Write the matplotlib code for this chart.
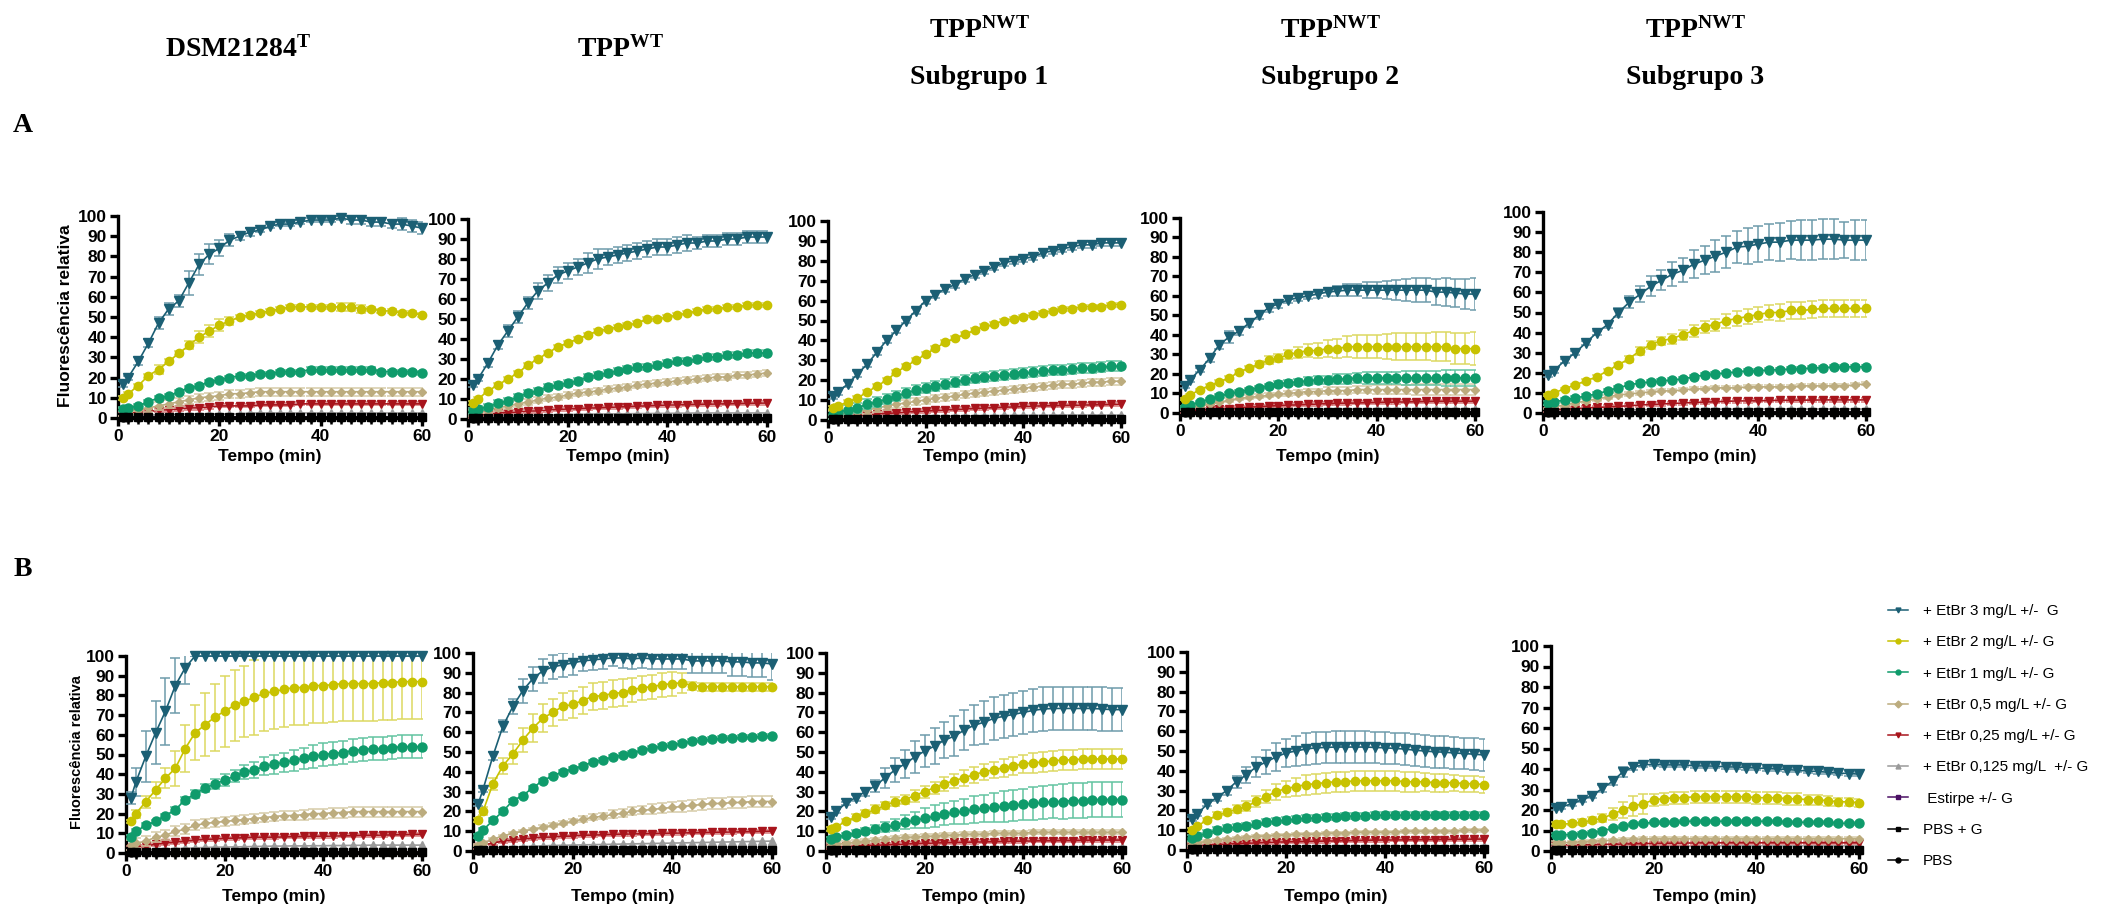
import matplotlib
matplotlib.use("Agg")
import matplotlib.pyplot as plt
from matplotlib.lines import Line2D
from matplotlib.ticker import MultipleLocator
import numpy as np

plt.rcParams['font.family'] = ['Liberation Sans', 'DejaVu Sans']
plt.rcParams['mathtext.fontset'] = 'custom'
plt.rcParams['mathtext.rm'] = 'Liberation Serif'
plt.rcParams['mathtext.bf'] = 'Liberation Serif:bold'

# time points (min)
TIME = [1, 2, 4, 6, 8, 10, 12, 14, 16, 18, 20, 22, 24, 26, 28, 30,
        32, 34, 36, 38, 40, 42, 44, 46, 48, 50, 52, 54, 56, 58, 60]

LABELS = ['+ EtBr 3 mg/L +/-  G', '+ EtBr 2 mg/L +/- G', '+ EtBr 1 mg/L +/- G',
          '+ EtBr 0,5 mg/L +/- G', '+ EtBr 0,25 mg/L +/- G', '+ EtBr 0,125 mg/L  +/- G',
          ' Estirpe +/- G', 'PBS + G', 'PBS']

TITLES = [r'$\mathbf{DSM21284^T}$', r'$\mathbf{TPP^{WT}}$', r'$\mathbf{TPP^{NWT}}$',
          r'$\mathbf{TPP^{NWT}}$', r'$\mathbf{TPP^{NWT}}$']
SUBTITLES = ['', '', 'Subgrupo 1', 'Subgrupo 2', 'Subgrupo 3']

# controls (same in every panel, ~0)
ESTIRPE = [0.6, 0.6, 0.6, 0.6, 0.6, 0.6, 0.6, 0.6, 0.6, 0.6, 0.6, 0.6, 0.6, 0.6, 0.6, 0.6,
           0.6, 0.6, 0.6, 0.6, 0.6, 0.6, 0.6, 0.6, 0.6, 0.6, 0.6, 0.6, 0.6, 0.6, 0.6]
PBS_G = [0.3, 0.3, 0.3, 0.3, 0.3, 0.3, 0.3, 0.3, 0.3, 0.3, 0.3, 0.3, 0.3, 0.3, 0.3, 0.3,
         0.3, 0.3, 0.3, 0.3, 0.3, 0.3, 0.3, 0.3, 0.3, 0.3, 0.3, 0.3, 0.3, 0.3, 0.3]
PBS = [0, 0, 0, 0, 0, 0, 0, 0, 0, 0, 0, 0, 0, 0, 0, 0,
       0, 0, 0, 0, 0, 0, 0, 0, 0, 0, 0, 0, 0, 0, 0]

# ---- row A ----
A1_3 = [17,20,28,37,47,54,58,67,76,81,84,88,90,92,93,95,96,96,97,98,98,98,99,98,98,97,97,96,96,95,94]
A1_3sd = [1.5,1,2,2,3,3,3,6,5,5,4,3,2,2,1,1,1,1,1,1,1,1,1,2,2,2,2,2,3,3,3]
A1_2 = [10,12,16,21,24,28,32,36,40,43,46,48,50,51,52,53,54,55,55,55,55,55,55,55,54,54,53,53,52,52,51]
A1_2sd = [1,1,1,1,2,1,1,2,3,3,3,2,1,1,1,1,1,1,1,1,1,1,2,2,2,1,1,1,1,1,1]
A1_1 = [4.5,5,6,8,10,11,13,15,16,18,19,20,21,21,22,22,23,23,23,24,24,24,24,24,24,24,23,23,23,23,22.5]
A1_1sd = 1
A1_05 = [3,3,4,5,6,7,8,9,10,10.5,11,12,12,12.5,13,13,13,13,13,13,13,13,13,13,13,13,13,13,13,13,13]
A1_05sd = 2
A1_025 = [2,2,3,3,4,4,4.5,5,5,5.5,6,6,6,6,6.5,6.5,6.5,6.5,7,7,7,7,7,7,7,7,7,7,7,7,7]
A1_0125 = [1,1,1,1.5,1.5,1.5,2,2,2,2,2,2,2,2.5,2.5,2.5,2.5,2.5,2.5,2.5,2.5,2.5,2.5,2.5,2.5,2.5,2.5,2.5,2.5,2.5,2.5]

A2_3 = [17,20,28,37,44,51,58,64,68,72,74,76,78,80,81,82,83,84,85,86,86,87,88,88,89,89,90,90,91,91,91]
A2_3sd = [1,1,2,2,3,3,3,4,4,4,4,4,5,5,4,4,4,4,4,4,4,4,4,3,3,3,3,3,3,3,3]
A2_2 = [8,10,14,17,20,23,27,30,33,36,38,40,42,44,45,46,47,48,50,50,51,52,53,54,55,55,56,56,57,57,57]
A2_2sd = 0.8
A2_1 = [4,5,6,8,9,11,13,14,16,17,18,19,21,22,23,24,25,26,26,27,28,29,29,30,31,31,32,32,33,33,33]
A2_1sd = 1.5
A2_05 = [3,3.5,4.5,5.5,6.5,7.5,8.5,9.5,10.5,11,12,13,13.5,14,15,15.5,16,17,17.5,18,18.5,19,19.5,20,20.5,21,21,22,22,22.5,23]
A2_05sd = 1.5
A2_025 = [1.5,2,2.5,3,3.2,3.5,4,4,4.5,4.8,5,5.2,5.4,5.6,5.8,6,6.2,6.4,6.6,6.8,7,7,7.2,7.3,7.4,7.5,7.6,7.7,7.8,7.9,8]
A2_0125 = [1,1,1.2,1.4,1.5,1.6,1.8,2,2,2.1,2.2,2.3,2.4,2.5,2.5,2.6,2.6,2.7,2.7,2.8,2.8,2.9,2.9,3,3,3,3,3,3,3,3]

A3_3 = [12,14,18,23,28,34,40,45,50,55,60,63,66,68,71,73,75,77,79,80,81,82,84,85,86,87,88,88,89,89,89]
A3_3sd = 1.5
A3_2 = [6,7,9,11,14,17,20,24,27,30,33,36,39,41,43,45,47,48,50,51,52,53,54,55,56,56,57,57,57,58,58]
A3_2sd = 1
A3_1 = [3,4,5,6,8,9,10.5,12,13.5,15,16,17,18,19,20,21,21.5,22,22.5,23,23.5,24,24.5,25,25,25.5,26,26,26.5,27,27]
A3_1sd = 2.5
A3_05 = [2.5,3,3.5,4,5,6,7,8,8.5,9.5,10,11,11.5,12,13,13.5,14,14.5,15,15.5,16,16.5,17,17.5,18,18,18.5,19,19,19.5,19.5]
A3_05sd = 1.8
A3_025 = [1.5,1.7,2,2.3,2.6,3,3.3,3.6,4,4.2,4.5,4.8,5,5.3,5.5,5.8,6,6.2,6.4,6.6,6.8,7,7.1,7.2,7.3,7.4,7.5,7.6,7.7,7.8,8]
A3_0125 = [1,1,1,1.1,1.2,1.3,1.4,1.5,1.6,1.7,1.8,1.9,2,2,2.1,2.1,2.2,2.2,2.3,2.3,2.4,2.4,2.4,2.5,2.5,2.5,2.5,2.5,2.5,2.5,2.5]

A4_3 = [14,17,22,28,35,39,42,46,50,54,56,58,59,60,61,62,62.5,63,63,63,63,63,63,63,63,63,62,62,61.5,61,61]
A4_3sd = [1,1,1,2,2,3,2,2,2,2,2,1.5,1.5,1.5,2,2,2.5,3,3,4,4,4.5,5,5.5,6,6,6.5,7,7,7.5,8]
A4_2 = [7,9,12,14,16,18,21,23,25,27,28,30,31,32,32,33,33,34,34,34,34,34,34,34,34,34,34,34,33,33,33]
A4_2sd = [0.5,0.5,0.5,1,1,1,1,1,1.5,2,2,2.5,3,3.5,4,4.5,5,5.5,6,6,6,6.5,7,7,7,7,7.5,7.5,8,8,8.5]
A4_1 = [3,4,5.5,7,8.5,10,11,12,13,14,15,15.5,16,16.5,17,17,17.5,17.5,18,18,18,18,18,18,18,18,18,18,18,18,18]
A4_1sd = [0.5,0.5,0.5,0.5,1,1,1,1,1,1,1.5,1.5,1.5,2,2,2,2.5,2.5,2.5,3,3,3,3,3.5,3.5,3.5,3.5,4,4,4,4]
A4_05 = [2,2.5,3.5,4.5,5.5,6.5,7.5,8,8.5,9,9.5,10,10.5,11,11,11.5,11.5,11.5,12,12,12,12,12,12,12,12,12,12,12,12,12]
A4_05sd = [0.5,0.5,0.5,0.5,0.5,1,1,1,1,1,1,1.5,1.5,1.5,1.5,2,2,2,2,2,2.5,2.5,2.5,2.5,3,3,3,3,3,3,3]
A4_025 = [1,1.2,1.5,1.8,2,2.3,2.6,3,3.2,3.5,3.8,4,4.2,4.4,4.6,4.8,5,5,5.2,5.3,5.4,5.5,5.6,5.7,5.8,5.9,6,6,6,6,6]
A4_0125 = [0.8,0.9,1,1,1.1,1.2,1.3,1.4,1.5,1.5,1.6,1.7,1.7,1.8,1.8,1.9,1.9,2,2,2,2,2,2,2,2,2,2,2,2,2,2]

A5_3 = [19,21,26,30,35,40,44,50,55,59,63,66,69,71,74,76,78,80,82.5,83,84,85,85,86,86,86,86.5,86.5,86,86,86]
A5_3sd = [1,1,1,1,1,1,1.5,2,3,4,5,5,6,6,7,7,8,8,8,9,9,9,9.5,9.5,10,10,10,10,9,10,10]
A5_2 = [9,10,12,14,16,18,21,24,27,31,34,36,37,39,41,43,44,46,47,48,49,50,50,51,51,51.5,52,52,52,52,52]
A5_2sd = [0.5,0.5,0.5,0.5,1,1,1,1,1.5,2,2,2,2.5,2.5,3,3,3,3.5,3.5,3.5,3.5,3.5,4,4,4,4,4,4,4,4,4]
A5_1 = [5,5.5,6.5,7.5,8.5,9.5,11,12.5,14,15,15.5,16,16.5,17,18,19,19.5,20,20.5,21,21,21.5,21.5,22,22,22.5,22.5,23,23,23,23]
A5_1sd = 0.8
A5_05 = [3,3,4,5,6,7,8,9,9.5,10,10.5,11,11,11.5,12,12,12.5,12.5,12.5,13,13,13,13,13,13.5,13.5,13.5,13.5,13.5,14,14.5]
A5_05sd = 0.8
A5_025 = [1.5,1.7,2,2.2,2.5,2.8,3,3.3,3.6,4,4.2,4.5,4.7,5,5.2,5.4,5.6,5.8,6,6,6.1,6.2,6.3,6.3,6.4,6.4,6.5,6.5,6.5,6.5,6.5]
A5_0125 = [1,1,1,1.1,1.2,1.3,1.4,1.5,1.5,1.6,1.6,1.7,1.7,1.8,1.8,1.8,1.9,1.9,1.9,2,2,2,2,2,2,2,2,2,2,2,2]

# ---- row B ----
B1_3 = [28,36,49,61,72,85,94,100,100,100,100,100,100,100,100,100,100,100,100,100,100,100,100,100,100,100,100,100,100,100,100]
B1_3sd = [3,7,13,16,17,14,8,0,0,0,0,0,0,0,0,0,0,0,0,0,0,0,0,0,0,0,0,0,0,0,0]
B1_2 = [16,20,26,32,38,43,53,61,65,69,72,75,77,79,81,82,83,84,84,85,85,85.5,86,86,86,86,86.5,86.5,87,87,87]
B1_2sd = [1,2,3,4,5,9,12,14,16,17,18,18,18,19,19,19,19,19,19,19,19,19,19,19,19,19,19,19,19,19,19]
B1_1 = [8,11,14,16,19,22,27,30,33,35,37,39,41,42,44,45,46,47,48,49,50,50.5,51,52,52.5,53,53,53.5,54,54,54]
B1_1sd = [1,1,1,1,1,1.5,1.5,2,2,2.5,3,3,3.5,4,4.5,5,5,5.5,5.5,6,6,6,6,6,6,6,6,6,6,6,6]
B1_05 = [4,5,6,8,9,11,12,14,15,15.5,16,16.5,17,17.5,18,18.5,19,19,19.5,20,20,20.5,20.5,21,21,21,21,21,21,21,21]
B1_05sd = 2.5
B1_025 = [2.5,3,3.5,4.5,5,5.5,6,6.5,7,7,7.5,7.5,7.8,8,8,8,8.2,8.3,8.4,8.5,8.5,8.6,8.7,8.8,9,9,9.1,9.2,9.3,9.4,9.5]
B1_0125 = [1,1.2,1.5,1.8,2,2.2,2.4,2.6,2.8,3,3,3.1,3.2,3.3,3.4,3.5,3.5,3.6,3.6,3.7,3.7,3.8,3.8,3.9,3.9,4,4,4,4,4,4]

B2_3 = [23.5,31,48,63,73,81,87,91,93,94,95,96,96.5,97,97.5,97.5,97,97.5,97,97,97,97,96,96,96,96,95.5,95.5,95,95,94.5]
B2_3sd = [1,1,2,3,4,6,6,6,6,6,6,5,5,5,4,5,5,5,5,5,5,5,6,6,6,6,7,7,7,7,8]
B2_2 = [15.5,20,34,43,49,56,62,67,70,73,74,76,78,78.5,79.5,80,81.5,82.5,83,84,84.5,85,83.5,83,83,83,83,83,83,83,83]
B2_2sd = [1,2,3,4,5,6,7,7,7,7,7,7,7,7,7,7,6,6,6,6,6,5,2,2,2,2,2,2,2,2,2]
B2_1 = [7.5,10.5,15.5,20,25.5,28,32,35.5,38,40,41.5,43,45,46,47.5,48.5,49.5,51,52,53,53.5,54.5,55.5,56,56.5,57,57,57.5,57.5,58,58]
B2_1sd = 1
B2_05 = [3,4,6,7.5,9,10,11,12,13,14,15,16,17,17.5,18.5,19,20,20.5,21,21.5,22,22.5,23,23.5,24,24,24.5,24.5,25,25,25]
B2_05sd = [0.5,0.5,0.5,0.5,0.5,0.5,0.5,1,1,1,1,1.5,1.5,1.5,2,2,2,2,2.5,2.5,2.5,3,3,3,3,3,3,3,3,3,3]
B2_025 = [2,3,4,5,5.5,6,6.5,7,7,7.5,7.5,8,8,8.2,8.4,8.5,8.6,8.7,8.8,8.9,9,9.1,9.2,9.3,9.4,9.5,9.6,9.7,9.8,9.9,10]
B2_0125 = [1,1.2,1.5,1.8,2,2.2,2.4,2.6,2.8,2.9,3,3.1,3.2,3.3,3.4,3.5,3.6,3.7,3.8,3.9,4,4.1,4.2,4.3,4.4,4.5,4.6,4.7,4.8,4.9,5]

B3_3 = [17,20,24,27,30,33,37,41,44,47.5,50.5,53,56,58,61,63.5,65,67,68,69,70,71,71.7,72,72,72,72,72,71.7,71.4,71.4]
B3_3sd = [1,1,1,1.5,2,3,5,6,7,8,8,9,9,10,10,10,11,11,11,11,11,11,11,11,11,11,11,11,11,11,11]
B3_2 = [11,12,15,17,19,21,23,25,26,28,30,32,34,35.5,37,38.5,40,41,42,43,44,44.5,45,45.5,46,46,46.5,46.5,46.5,46.5,46.5]
B3_2sd = [1,1,1,1.5,1.5,2,2,2.5,2.5,3,3,3,3.5,3.5,4,4,4,4,4.5,4.5,4.5,5,5,5,5,5,5,5,5,5,5]
B3_1 = [6,7,8,9,10,11,12,13,14.5,15.5,16.5,17.5,18.5,19.5,20,21,21.5,22,22.5,23,23.5,24,24.5,25,25,25.5,25.5,26,26,26,26]
B3_1sd = [1,1,1,1.5,1.5,2,2.5,3,3.5,4,5,5.5,5.5,6,6.5,7,7,7.5,8,8,8,8.5,8.5,8.5,9,9,9,9,9,9,9]
B3_05 = [3,3.5,4,4.5,5,5.5,6,6.5,7,7,7.5,7.5,8,8,8.5,8.5,8.5,9,9,9,9,9.5,9.5,9.5,9.5,9.5,9.5,9.5,9.5,9.5,9.5]
B3_05sd = 1
B3_025 = [2,2.1,2.3,2.5,2.7,2.9,3.1,3.3,3.5,3.7,3.9,4,4.2,4.3,4.4,4.5,4.6,4.7,4.8,4.9,5,5.1,5.2,5.2,5.3,5.3,5.4,5.4,5.5,5.5,5.5]
B3_0125 = [1,1,1.1,1.2,1.3,1.4,1.5,1.5,1.6,1.6,1.7,1.7,1.8,1.8,1.8,1.9,1.9,1.9,2,2,2,2,2,2,2,2,2,2,2,2,2]

B4_3 = [15.5,18,23,26.5,30,34.5,38,42,44.5,47,49,50,51,51.6,51.8,52,52,52,52,51.8,51.6,51.3,51,50.4,50,49.6,49.4,49,48.7,48.4,48]
B4_3sd = [1,1,1,1.5,2,3,4,5,6,7,7,7.5,8,8,8,8,8,8,8,8,8,8,8,8,8,8,8,8,8,8,8]
B4_2 = [10,12,15,17.5,19,20.5,22,24.5,27,29.5,31,32,33,33.5,34,34.5,34.5,35,35,35,35,35,34.5,34.5,34.5,34,34,34,33.5,33.5,33]
B4_2sd = [1,1,1,1.5,1.5,2,2.5,3,3.5,4,4,4.5,5,5,5,5,5,5,5,5,5,5,5,5,4.5,4.5,4.5,4,4,4,4]
B4_1 = [6,7,8.5,10,11,11.5,12,13,14,14.5,15,15.5,16,16,16.5,16.5,17,17,17,17.5,17.5,17.5,17.5,17.5,17.5,17.5,17.5,17.5,17.5,17.5,17.5]
B4_1sd = 1.5
B4_05 = [3,3.5,4.5,5,5.5,6,6.5,7,7,7.5,7.5,8,8,8,8.5,8.5,8.5,9,9,9,9,9,9.5,9.5,9.5,9.5,9.5,9.5,10,10,10]
B4_05sd = 0.8
B4_025 = [2,2.2,2.5,2.8,3,3.2,3.4,3.6,3.8,4,4.1,4.2,4.3,4.4,4.5,4.6,4.7,4.8,4.9,5,5,5.1,5.1,5.2,5.2,5.3,5.3,5.4,5.4,5.5,5.5]
B4_0125 = [1,1,1.1,1.2,1.3,1.4,1.5,1.5,1.6,1.6,1.7,1.7,1.8,1.8,1.8,1.9,1.9,1.9,2,2,2,2,2,2,2,2,2,2,2,2,2]

B5_3 = [21,21.5,23,25,27,30.5,34,38.6,41,42,42.3,42,42,42,41.5,41.5,41.4,41,41,40.7,40.5,40.2,40,39.7,39.4,39,38.8,38.4,38,37.8,37.5]
B5_3sd = [1,1,1,1,1,1.5,2,2.5,1.5,1,1,1,1,1,1,1,1,1,1,1,1,1,1,1,1,1,1,1,1,1,1]
B5_2 = [13,13,13.5,14,15,16,18,20,22,23,25,25.5,26,26,26.5,26.5,26.5,26.5,26.5,26.5,26,26,26,25.5,25.5,25,25,24.5,24,24,23.5]
B5_2sd = [1,1,1,1.5,1.5,2,3,4,5,5,3,3,3,3,3,3,3,3,3,3,3,3,3,3,3,2.5,2.5,2.5,2,2,2]
B5_1 = [8,8,8,8.5,9,10,11,12,13,13.5,14,14,14,14.5,14.5,14.5,14.5,14.5,14.5,14.5,14.5,14.5,14.5,14,14,14,14,14,13.5,13.5,13.5]
B5_1sd = 0.8
B5_05 = [4,4,4.2,4.5,4.8,5,5.2,5.5,5.7,5.9,6,6,6,6,6,6,6,6,6,6,6,6,6,6,6,6,6,6,6,6,6]
B5_05sd = 0.8
B5_025 = [3,3,3,3,3.1,3.2,3.3,3.4,3.5,3.6,3.7,3.8,3.8,3.9,3.9,4,4,4,4,4,4,4,4,4,4,4,4,4,4,4,4]
B5_0125 = [2,2,2,2,2,2.1,2.1,2.2,2.2,2.3,2.3,2.3,2.4,2.4,2.4,2.5,2.5,2.5,2.5,2.5,2.5,2.5,2.5,2.5,2.5,2.5,2.5,2.5,2.5,2.5,2.5]

# (values, sd) per series, per panel
PANELS_A = [
    [(A1_3, A1_3sd), (A1_2, A1_2sd), (A1_1, A1_1sd), (A1_05, A1_05sd), (A1_025, 0.8), (A1_0125, None)],
    [(A2_3, A2_3sd), (A2_2, A2_2sd), (A2_1, A2_1sd), (A2_05, A2_05sd), (A2_025, 0.8), (A2_0125, None)],
    [(A3_3, A3_3sd), (A3_2, A3_2sd), (A3_1, A3_1sd), (A3_05, A3_05sd), (A3_025, 0.8), (A3_0125, None)],
    [(A4_3, A4_3sd), (A4_2, A4_2sd), (A4_1, A4_1sd), (A4_05, A4_05sd), (A4_025, 0.8), (A4_0125, None)],
    [(A5_3, A5_3sd), (A5_2, A5_2sd), (A5_1, A5_1sd), (A5_05, A5_05sd), (A5_025, 0.8), (A5_0125, None)],
]
PANELS_B = [
    [(B1_3, B1_3sd), (B1_2, B1_2sd), (B1_1, B1_1sd), (B1_05, B1_05sd), (B1_025, 0.8), (B1_0125, None)],
    [(B2_3, B2_3sd), (B2_2, B2_2sd), (B2_1, B2_1sd), (B2_05, B2_05sd), (B2_025, 0.8), (B2_0125, None)],
    [(B3_3, B3_3sd), (B3_2, B3_2sd), (B3_1, B3_1sd), (B3_05, B3_05sd), (B3_025, 0.8), (B3_0125, None)],
    [(B4_3, B4_3sd), (B4_2, B4_2sd), (B4_1, B4_1sd), (B4_05, B4_05sd), (B4_025, 0.8), (B4_0125, None)],
    [(B5_3, B5_3sd), (B5_2, B5_2sd), (B5_1, B5_1sd), (B5_05, B5_05sd), (B5_025, 0.8), (B5_0125, None)],
]

# style per series: color, errorbar color, marker, marker size
STYLES = [
    ('#1b5f74', '#6d9bab', 'v', 6.5),
    ('#c8c200', '#dcd960', 'o', 6),
    ('#0f9b6b', '#62c3a0', 'o', 6.5),
    ('#bcac7e', '#d6cba8', 'D', 4.5),
    ('#a8141c', '#d77a7a', 'v', 5.5),
    ('#9a9a9a', '#c4c4c4', '^', 5.5),
    ('#4b1064', '#8a6a9a', 's', 5),
    ('#000000', '#555555', 's', 6),
    ('#000000', '#555555', 'o', 5),
]

W, H = 2112, 910
fig = plt.figure(figsize=(W / 100, H / 100), dpi=100)

# axes boxes in pixels (x0, y_top, x1, y_bottom)
BOX_A = [(118, 216, 422, 418), (468, 219, 767, 419), (828, 221, 1121, 420),
         (1180, 218, 1475, 413), (1543, 212, 1866, 413)]
BOX_B = [(126, 656, 422, 853), (473, 653, 772, 851), (826, 653, 1122, 851),
         (1187, 652, 1484, 850), (1551, 646, 1859, 851)]


def make_axes(box):
    x0, y0, x1, y1 = box
    ax = fig.add_axes([x0 / W, 1 - y1 / H, (x1 - x0) / W, (y1 - y0) / H])
    ax.set_xlim(0, 60)
    ax.set_ylim(0, 100)
    for s in ['top', 'right']:
        ax.spines[s].set_visible(False)
    for s in ['left', 'bottom']:
        ax.spines[s].set_linewidth(2.4)
    ax.set_yticks(range(0, 101, 10))
    ax.set_xticks([0, 20, 40, 60])
    ax.xaxis.set_minor_locator(MultipleLocator(2))
    ax.tick_params(axis='both', which='major', length=6, width=2.4, labelsize=12.5, pad=2)
    ax.tick_params(axis='x', which='minor', length=4, width=1.8)
    for lab in ax.get_xticklabels() + ax.get_yticklabels():
        lab.set_fontweight('bold')
    return ax


def draw_panel(ax, series):
    allser = series + [(ESTIRPE, None), (PBS_G, None), (PBS, None)]
    for i, ((vals, sd), (col, ecol, mk, ms)) in enumerate(zip(allser, STYLES)):
        z = 10 - i
        if sd is not None:
            ax.errorbar(TIME, vals, yerr=sd, fmt='none', ecolor=ecol, elinewidth=1.1,
                        capsize=3.5, capthick=1.1, zorder=z + 0.5)
        ax.plot(TIME, vals, color=col, lw=1.2, marker=mk, ms=ms, mec=col, mfc=col,
                clip_on=False, zorder=20 + i if i >= 6 else z + 1)


for k in range(5):
    ax = make_axes(BOX_A[k])
    draw_panel(ax, PANELS_A[k])
    ax = make_axes(BOX_B[k])
    draw_panel(ax, PANELS_B[k])
    cxa = (BOX_A[k][0] + BOX_A[k][2]) / 2
    cxb = (BOX_B[k][0] + BOX_B[k][2]) / 2
    fig.text(cxa / W, 1 - 456 / H, 'Tempo (min)', ha='center', va='center',
             fontsize=12.5, fontweight='bold')
    fig.text(cxb / W, 1 - 896 / H, 'Tempo (min)', ha='center', va='center',
             fontsize=12.5, fontweight='bold')

fig.text(66 / W, 1 - 316 / H, 'Fluorescência relativa', rotation=90, ha='center',
         va='center', fontsize=12.5, fontweight='bold')
fig.text(77 / W, 1 - 752 / H, 'Fluorescência relativa', rotation=90, ha='center',
         va='center', fontsize=10.5, fontweight='bold')

# column titles
TITLE_X = [238, 620, 979, 1330, 1695]
for k in range(5):
    if SUBTITLES[k]:
        fig.text(TITLE_X[k] / W, 1 - 30 / H, TITLES[k], ha='center', va='center', fontsize=20)
        fig.text(TITLE_X[k] / W, 1 - 77 / H, SUBTITLES[k], ha='center', va='center',
                 fontsize=20, fontweight='bold', family='Liberation Serif')
    else:
        fig.text(TITLE_X[k] / W, 1 - 49 / H, TITLES[k], ha='center', va='center', fontsize=20)

fig.text(23 / W, 1 - 125 / H, 'A', ha='center', va='center', fontsize=20,
         fontweight='bold', family='Liberation Serif')
fig.text(23 / W, 1 - 570 / H, 'B', ha='center', va='center', fontsize=20,
         fontweight='bold', family='Liberation Serif')

handles = [Line2D([0], [0], color=c, lw=1.1, marker=m, ms=3.5) for c, e, m, s in STYLES]
fig.legend(handles, LABELS, loc='upper left', bbox_to_anchor=(1882 / W, 1 - 598 / H),
           frameon=False, fontsize=11, handlelength=1.3, handletextpad=1.0,
           labelspacing=1.13, borderaxespad=0)

fig.savefig('out.png', dpi=100)
